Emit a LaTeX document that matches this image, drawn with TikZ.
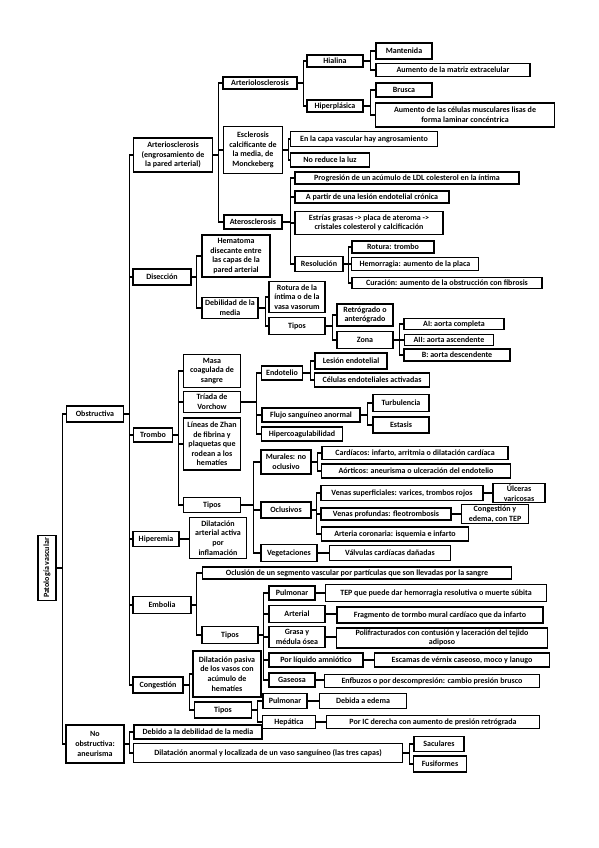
\documentclass[tikz,border=0pt]{standalone}
\usepackage{fontspec}
\setmainfont{Carlito}
\usepackage{tikz}
\usetikzlibrary{positioning}

\tikzset{
	box/.style={draw, line width=1.2pt, fill=white, align=center, inner sep=1pt, font=\fontsize{8}{9.6}\selectfont\bfseries},
	conn/.style={line width=1.2pt},
}

\begin{document}
\begin{tikzpicture}[x=1pt, y=-1pt]
		\useasboundingbox (0,0) rectangle (599,848);
		
		% raiz
		\node[box, rotate=90, minimum width=65, minimum height=18] (root) at (47,568) {Patología vascular};
		\node[box, minimum width=57, minimum height=16] (obs) at (95,414) {Obstructiva};
		\node[box, minimum width=58, minimum height=38] (noobs) at (95,744) {No\\obstructiva:\\aneurisma};
		
		% Obstructiva
		\node[box, minimum width=79, minimum height=34] (art) at (173,155) {Arteriosclerosis\\(engrosamiento de\\la pared arterial)};
		\node[box, minimum width=58, minimum height=16] (dis) at (162,277) {Disección};
		\node[box, minimum width=39, minimum height=14] (trom) at (153,435) {Trombo};
		\node[box, minimum width=46, minimum height=15] (hipe) at (156,539) {Hiperemia};
		\node[box, minimum width=58, minimum height=17] (emb) at (162,605) {Embolia};
		\node[box, minimum width=50, minimum height=16] (cong) at (158,685) {Congestión};
		
		% Arteriosclerosis
		\node[box, minimum width=74, minimum height=12] (arteriolo) at (260,83) {Arteriolosclerosis};
		\node[box, minimum width=59, minimum height=47] (escl) at (253,150) {Esclerosis\\calcificante de\\la media, de\\Monckeberg};
		\node[box, minimum width=58, minimum height=14] (atero) at (253,222) {Aterosclerosis};
		
		\node[box, minimum width=56, minimum height=12] (hial) at (335,61) {Hialina};
		\node[box, minimum width=56, minimum height=12] (hiper) at (335,106) {Hiperplásica};
		\node[box, minimum width=56, minimum height=16] (mant) at (404,51) {Mantenida};
		\node[box, minimum width=154, minimum height=13] (matriz) at (453,70) {Aumento de la matriz extracelular};
		\node[box, minimum width=56, minimum height=14] (brusca) at (404,90) {Brusca};
		\node[box, minimum width=179, minimum height=24] (celulas) at (465,115) {Aumento de las células musculares lisas de\\forma laminar concéntrica};
		
		\node[box, minimum width=147, minimum height=15] (capa) at (364,139) {En la capa vascular hay angrosamiento};
		\node[box, minimum width=79, minimum height=14] (luz) at (330,160) {No reduce la luz};
		
		\node[box, minimum width=224, minimum height=12] (ldl) at (407,178) {Progresión de un acúmulo de LDL colesterol en la íntima};
		\node[box, minimum width=154, minimum height=12] (lesion) at (372,197) {A partir de una lesión endotelial crónica};
		\node[box, minimum width=148, minimum height=23] (estrias) at (369,223) {Estrías grasas -> placa de ateroma ->\\cristales colesterol y calcificación};
		\node[box, minimum width=48, minimum height=15] (resol) at (319,264) {Resolución};
		\node[box, minimum width=82, minimum height=12] (rotura) at (393,247) {Rotura: trombo};
		\node[box, minimum width=127, minimum height=13] (hemo) at (415,264) {Hemorragia: aumento de la placa};
		\node[box, minimum width=190, minimum height=11] (cura) at (447,283) {Curación: aumento de la obstrucción con fibrosis};
		
		% Diseccion
		\node[box, minimum width=68, minimum height=42] (hema) at (236,256) {Hematoma\\disecante entre\\las capas de la\\pared arterial};
		\node[box, minimum width=56, minimum height=21] (debil) at (230,308) {Debilidad de la\\media};
		\node[box, minimum width=56, minimum height=31] (rotint) at (297,297) {Rotura de la\\íntima o de la\\vasa vasorum};
		\node[box, minimum width=56, minimum height=17] (tiposdis) at (297,326) {Tipos};
		\node[box, minimum width=56, minimum height=22] (retro) at (365,315) {Retrógrado o\\anterógrado};
		\node[box, minimum width=56, minimum height=17] (zona) at (365,340) {Zona};
		\node[box, minimum width=100, minimum height=11] (ai) at (454,324) {AI: aorta completa};
		\node[box, minimum width=89, minimum height=11] (aii) at (449,340) {AII: aorta ascendente};
		\node[box, minimum width=106, minimum height=12] (b) at (457,355) {B: aorta descendente};
		
		% Trombo
		\node[box, minimum width=57, minimum height=33] (masa) at (212,371) {Masa\\coagulada de\\sangre};
		\node[box, minimum width=57, minimum height=21] (triada) at (212,402) {Tríada de\\Vorchow};
		\node[box, minimum width=57, minimum height=52] (lineas) at (212,444) {Líneas de Zhan\\de fibrina y\\plaquetas que\\rodean a los\\hematíes};
		\node[box, minimum width=57, minimum height=15] (tipostrom) at (212,505) {Tipos};
		
		\node[box, minimum width=41, minimum height=14] (endo) at (282,373) {Endotelio};
		\node[box, minimum width=98, minimum height=14] (flujo) at (311,415) {Flujo sanguíneo anormal};
		\node[box, minimum width=81, minimum height=14] (hiperc) at (302,434) {Hipercoagulabilidad};
		\node[box, minimum width=72, minimum height=16] (lesend) at (351,361) {Lesión endotelial};
		\node[box, minimum width=115, minimum height=14] (celact) at (372,380) {Células endoteliales activadas};
		\node[box, minimum width=56, minimum height=17] (turb) at (401,403) {Turbulencia};
		\node[box, minimum width=56, minimum height=16] (estasis) at (401,425) {Estasis};
		
		\node[box, minimum width=50, minimum height=24] (murales) at (286,462) {Murales: no\\oclusivo};
		\node[box, minimum width=50, minimum height=16] (oclus) at (286,510) {Oclusivos};
		\node[box, minimum width=56, minimum height=17] (veget) at (289,553) {Vegetaciones};
		\node[box, minimum width=186, minimum height=13] (cardi) at (415,453) {Cardíacos: infarto, arritmia o dilatación cardíaca};
		\node[box, minimum width=189, minimum height=14] (aort) at (416,471) {Aórticos: aneurisma o ulceración del endotelio};
		\node[box, minimum width=162, minimum height=15] (vsup) at (402,493) {Venas superficiales: varices, trombos rojos};
		\node[box, minimum width=52, minimum height=19] (ulc) at (519,493) {Úlceras\\varicosas};
		\node[box, minimum width=130, minimum height=12] (vprof) at (386,514) {Venas profundas: fleotrombosis};
		\node[box, minimum width=67, minimum height=17] (congtep) at (495,514) {Congestión y\\edema, con TEP};
		\node[box, minimum width=147, minimum height=14] (coron) at (395,534) {Arteria coronaria: isquemia e infarto};
		\node[box, minimum width=121, minimum height=15] (valv) at (390,553) {Válvulas cardíacas dañadas};
		
		% Hiperemia
		\node[box, minimum width=57, minimum height=41] (dilhip) at (218,538) {Dilatación\\arterial activa\\por\\inflamación};
		
		% Embolia
		\node[box, minimum width=309, minimum height=12] (ocl) at (357,573) {Oclusión de un segmento vascular por partículas que son llevadas por la sangre};
		\node[box, minimum width=56, minimum height=17] (tiposemb) at (230,635) {Tipos};
		\node[box, minimum width=46, minimum height=14] (pulm) at (292,593) {Pulmonar};
		\node[box, minimum width=56, minimum height=17] (arter) at (297,614) {Arterial};
		\node[box, minimum width=56, minimum height=21] (grasa) at (297,637) {Grasa y\\médula ósea};
		\node[box, minimum width=94, minimum height=14] (amnio) at (316,660) {Por líquido amniótico};
		\node[box, minimum width=46, minimum height=14] (gas) at (292,680) {Gaseosa};
		\node[box, minimum width=221, minimum height=17] (tep) at (436,593) {TEP que puede dar hemorragia resolutiva o muerte súbita};
		\node[box, minimum width=206, minimum height=16] (frag) at (440,615) {Fragmento de tormbo mural cardíaco que da infarto};
		\node[box, minimum width=211, minimum height=20] (poli) at (442,638) {Polifracturados con contusión y laceración del tejido\\adiposo};
		\node[box, minimum width=175, minimum height=14] (escam) at (462,660) {Escamas de vérnix caseoso, moco y lanugo};
		\node[box, minimum width=215, minimum height=13] (enf) at (432,681) {Enfbuzos o por descompresión: cambio presión brusco};
		
		% Congestion
		\node[box, minimum width=68, minimum height=46] (dilpas) at (227,674) {Dilatación pasiva\\de los vasos con\\acúmulo de\\hematíes};
		\node[box, minimum width=57, minimum height=16] (tiposcong) at (223,710) {Tipos};
		\node[box, minimum width=44, minimum height=15] (pulmc) at (285,701) {Pulmonar};
		\node[box, minimum width=53, minimum height=13] (hepa) at (289,722) {Hepática};
		\node[box, minimum width=87, minimum height=15] (edema) at (363,701) {Debida a edema};
		\node[box, minimum width=213, minimum height=13] (ic) at (433,722) {Por IC derecha con aumento de presión retrógrada};
		
		% No obstructiva
		\node[box, minimum width=128, minimum height=14] (debmed) at (198,732) {Debido a la debilidad de la media};
		\node[box, minimum width=269, minimum height=19] (dilan) at (268,753) {Dilatación anormal y localizada de un vaso sanguíneo (las tres capas)};
		\node[box, minimum width=50, minimum height=15] (sac) at (439,744) {Saculares};
		\node[box, minimum width=53, minimum height=16] (fus) at (440,764) {Fusiformes};
		
		% conectores
		\foreach \c in {obs,noobs} \draw[conn] (root.south) -- ++(6,0) |- (\c.west);
		\foreach \c in {art,dis,trom,hipe,emb,cong} \draw[conn] (obs.east) -- ++(5.5,0) |- (\c.west);
		\foreach \c in {debmed,dilan} \draw[conn] (noobs.east) -- ++(5,0) |- (\c.west);
		\foreach \c in {arteriolo,escl,atero} \draw[conn] (art.east) -- ++(5.5,0) |- (\c.west);
		\foreach \c in {hial,hiper} \draw[conn] (arteriolo.east) -- ++(6,0) |- (\c.west);
		\foreach \c in {mant,matriz} \draw[conn] (hial.east) -- ++(7,0) |- (\c.west);
		\foreach \c in {brusca,celulas} \draw[conn] (hiper.east) -- ++(7,0) |- (\c.west);
		\foreach \c in {capa,luz} \draw[conn] (escl.east) -- ++(5.5,0) |- (\c.west);
		\foreach \c in {ldl,lesion,estrias,resol} \draw[conn] (atero.east) -- ++(8,0) |- (\c.west);
		\foreach \c in {rotura,hemo,cura} \draw[conn] (resol.east) -- ++(5,0) |- (\c.west);
		\foreach \c in {hema,debil} \draw[conn] (dis.east) -- ++(5,0) |- (\c.west);
		\foreach \c in {rotint,tiposdis} \draw[conn] (debil.east) -- ++(7,0) |- (\c.west);
		\foreach \c in {retro,zona} \draw[conn] (tiposdis.east) -- ++(7,0) |- (\c.west);
		\foreach \c in {ai,aii,b} \draw[conn] (zona.east) -- ++(6,0) |- (\c.west);
		\foreach \c in {masa,triada,lineas,tipostrom} \draw[conn] (trom.east) -- ++(5.5,0) |- (\c.west);
		\foreach \c in {endo,flujo,hiperc} \draw[conn] (triada.east) -- ++(15,0) |- (\c.west);
		\foreach \c in {lesend,celact} \draw[conn] (endo.east) -- ++(7,0) |- (\c.west);
		\foreach \c in {turb,estasis} \draw[conn] (flujo.east) -- ++(7,0) |- (\c.west);
		\foreach \c in {murales,oclus,veget} \draw[conn] (tipostrom.east) -- ++(12,0) |- (\c.west);
		\foreach \c in {cardi,aort} \draw[conn] (murales.east) -- ++(6,0) |- (\c.west);
		\foreach \c in {vsup,vprof,coron} \draw[conn] (oclus.east) -- ++(5,0) |- (\c.west);
		\foreach \c in {ocl,tiposemb} \draw[conn] (emb.east) -- ++(5,0) |- (\c.west);
		\foreach \c in {pulm,arter,grasa,amnio,gas} \draw[conn] (tiposemb.east) -- ++(5,0) |- (\c.west);
		\foreach \c in {dilpas,tiposcong} \draw[conn] (cong.east) -- ++(6,0) |- (\c.west);
		\foreach \c in {pulmc,hepa} \draw[conn] (tiposcong.east) -- ++(5.5,0) |- (\c.west);
		\foreach \c in {sac,fus} \draw[conn] (dilan.east) -- ++(6,0) |- (\c.west);
		
		% hijos unicos
		\foreach \a/\b in {hipe/dilhip, veget/valv, vsup/ulc, vprof/congtep, pulm/tep, arter/frag, grasa/poli, amnio/escam, gas/enf, pulmc/edema, hepa/ic}
			\draw[conn] (\a.east) -- (\a.east -| \b.west);
\end{tikzpicture}
\end{document}
